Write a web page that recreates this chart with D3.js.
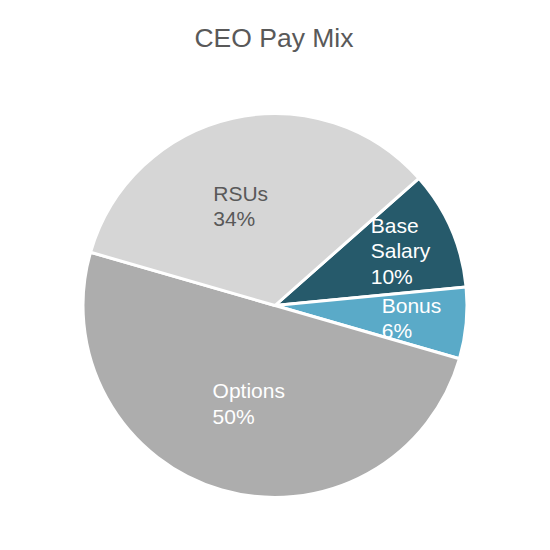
<!DOCTYPE html>
<html><head><meta charset="utf-8">
<script src="https://cdn.jsdelivr.net/npm/d3@7"></script>
<style>body{margin:0;background:#fff}</style>
</head><body>
<svg id="c" width="550" height="550"></svg>
<script>
const categories = ["Base Salary", "Bonus", "Options", "RSUs"];
const values = [10, 6, 50, 34];
const labelLines = [["Base", "Salary", "10%"], ["Bonus", "6%"], ["Options", "50%"], ["RSUs", "34%"]];
const colors = ["#265a6b", "#5aaac8", "#adadad", "#d6d6d6"];
const labelColors = ["#ffffff", "#ffffff", "#ffffff", "#595959"];

// layout-only nudges for label blocks (pixels), by slice index
const labelNudge = {2: [2, 0], 3: [-12, 0]};

const svg = d3.select("#c");
const cx = 275, cy = 305.5, R = 192;

svg.append("text").attr("x", 274).attr("y", 47).attr("text-anchor", "middle")
  .attr("font-family", "'Liberation Sans', Arial, sans-serif").attr("font-size", 26.5)
  .attr("fill", "#595959").text("CEO Pay Mix");

const data = categories.map((c, i) => ({name: c, value: values[i], i}));
const a0 = 48.5 * Math.PI / 180;
const pie = d3.pie().value(d => d.value).sort(null).startAngle(a0).endAngle(a0 + 2 * Math.PI);
const arcs = pie(data);
const arc = d3.arc().innerRadius(0).outerRadius(R);
const g = svg.append("g").attr("transform", `translate(${cx},${cy})`);

g.selectAll("path").data(arcs).join("path")
  .attr("d", arc).attr("fill", d => colors[d.data.i])
  .attr("stroke", "#fff").attr("stroke-width", 3).attr("stroke-linejoin", "round");

const total = d3.sum(values);
const lh = 25.5, capH = 15;
arcs.forEach(a => {
  const frac = a.data.value / total;
  const lr = frac < 0.15 ? 0.714 * R : 0.53 * R;
  let [x, y] = d3.arc().innerRadius(lr).outerRadius(lr).centroid(a);
  const nd = labelNudge[a.data.i] || [0, 0];
  x += nd[0]; y += nd[1];
  const lines = labelLines[a.data.i];
  const t = g.append("text").attr("font-family", "'Liberation Sans', Arial, sans-serif")
    .attr("font-size", 21).attr("fill", labelColors[a.data.i]);
  const y0 = y - ((lines.length - 1) * lh + capH) / 2 + capH;
  lines.forEach((l, k) => t.append("tspan").attr("x", 0).attr("y", y0 + k * lh).text(l));
  const w = t.node().getBBox().width;
  t.selectAll("tspan").attr("x", x - w / 2);
});
</script>
</body></html>
